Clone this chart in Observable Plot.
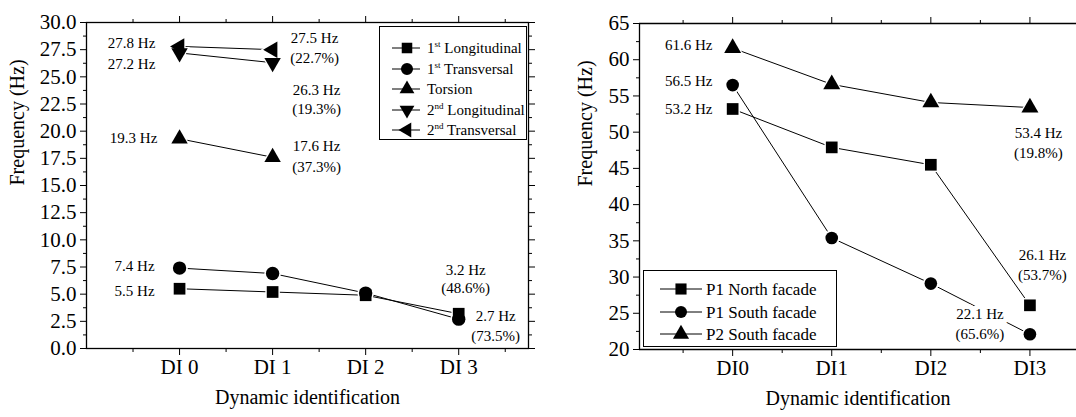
<!DOCTYPE html>
<html><head><meta charset="utf-8">
<script src="https://cdn.jsdelivr.net/npm/d3@7"></script>
<script src="https://cdn.jsdelivr.net/npm/@observablehq/plot@0.6"></script>
<style>
html,body{margin:0;padding:0;background:#fff;overflow:hidden}
#wrap{position:relative;width:1076px;height:417px;font-family:"Liberation Serif",Tinos,"Times New Roman",Times,"DejaVu Serif",serif;color:#000;overflow:hidden}
#wrap svg, #wrap svg text{font-family:"Liberation Serif",Tinos,"Times New Roman",Times,"DejaVu Serif",serif !important}
#left,#right{position:absolute;top:0}
#left{left:0}
#right{left:540px}
.legend{position:absolute;border:1.3px solid #000;background:#fff;box-sizing:border-box}
.legend .row{position:absolute;left:0;height:0;white-space:nowrap}
.legend .row svg{position:absolute;left:0;top:-10px;overflow:visible}
.legend .row span{position:absolute;line-height:1;transform:translateY(-50%);top:0}
.legend sup{font-size:0.6em;vertical-align:0.6em;line-height:0}
</style></head><body>
<div id="wrap"><div id="left"></div><div id="right"></div></div>
<script>
// ---------- data ----------
const diLabelsLeft = ["DI 0", "DI 1", "DI 2", "DI 3"];
const diLabelsRight = ["DI0", "DI1", "DI2", "DI3"];
const leftYTicks = [0, 2.5, 5, 7.5, 10, 12.5, 15, 17.5, 20, 22.5, 25, 27.5, 30];
const leftYMinor = [1.25, 3.75, 6.25, 8.75, 11.25, 13.75, 16.25, 18.75, 21.25, 23.75, 26.25, 28.75];
const rightYTicks = [20, 25, 30, 35, 40, 45, 50, 55, 60, 65];
const rightYMinor = [22.5, 27.5, 32.5, 37.5, 42.5, 47.5, 52.5, 57.5, 62.5];
const xMajor = [0, 1, 2, 3];
const xMinor = [-0.5, 0.5, 1.5, 2.5, 3.5];

const leftSeriesNames = ["1st Longitudinal", "1st Transversal", "Torsion", "2nd Longitudinal", "2nd Transversal"];
const firstLongitudinal = [5.5, 5.2, 4.9, 3.2];
const firstTransversal = [7.4, 6.9, 5.1, 2.7];
const torsion = [19.3, 17.6];
const secondLongitudinal = [27.2, 26.3];
const secondTransversal = [27.8, 27.5];

const rightSeriesNames = ["P1 North facade", "P1 South facade", "P2 South facade"];
const p1North = [53.2, 47.9, 45.5, 26.1];
const p1South = [56.5, 35.4, 29.1, 22.1];
const p2South = [61.6, 56.6, 54.1, 53.4];

const leftNoteLabels = ["27.8 Hz", "27.2 Hz", "27.5 Hz", "(22.7%)", "26.3 Hz", "(19.3%)", "19.3 Hz", "17.6 Hz", "(37.3%)", "7.4 Hz", "5.5 Hz", "3.2 Hz", "(48.6%)", "2.7 Hz", "(73.5%)"];
const rightNoteLabels = ["61.6 Hz", "56.5 Hz", "53.2 Hz", "53.4 Hz", "(19.8%)", "26.1 Hz", "(53.7%)", "22.1 Hz", "(65.6%)"];

const xTitle = "Dynamic identification";
const yTitle = "Frequency (Hz)";

// ---------- symbols ----------
const FONT = "'Liberation Serif', Tinos, 'Times New Roman', Times, 'DejaVu Serif', serif";
const sqrt3 = Math.sqrt(3);
const triDown = {draw(ctx, size) {
  const y = -Math.sqrt(size / (sqrt3 * 3));
  ctx.moveTo(0, -y * 2); ctx.lineTo(-sqrt3 * y, y); ctx.lineTo(sqrt3 * y, y); ctx.closePath();
}};
const triLeft = {draw(ctx, size) {
  const y = -Math.sqrt(size / (sqrt3 * 3));
  ctx.moveTo(y * 2, 0); ctx.lineTo(-y, -sqrt3 * y); ctx.lineTo(-y, sqrt3 * y); ctx.closePath();
}};
const symMap = {square: d3.symbolSquare, circle: d3.symbolCircle, triangle: d3.symbolTriangle, triDown, triLeft};

const pts = values => values.map((v, i) => ({i, v}));

function seriesMarks(series) {
  const lines = series.map(s => Plot.line(pts(s.values), {x: "i", y: "v", stroke: "black", strokeWidth: 1}));
  const halos = series.map(s => Plot.dot(pts(s.values), {x: "i", y: "v", symbol: symMap[s.symbol], r: s.r + 1.6, fill: "white", stroke: "none"}));
  const dots = series.map(s => Plot.dot(pts(s.values), {x: "i", y: "v", symbol: symMap[s.symbol], r: s.r, fill: "black", stroke: "none"}));
  return [...lines, ...halos, ...dots];
}
function note(values, i, text, dx, dy, halo = 4) {
  return Plot.text([{i, v: values[i]}], {x: "i", y: "v", text: () => text, dx, dy, fontSize: 15, fontFamily: FONT, fill: "black", stroke: "white", strokeWidth: halo});
}
function axes(yTicks, yMinor, yFmt, xFmt, withRight) {
  const m = [
    Plot.axisY(yTicks, {anchor: "left", tickSize: 6, tickPadding: 4, tickFormat: yFmt, fontSize: 21, fontFamily: FONT, label: null}),
    Plot.axisY(yMinor, {anchor: "left", tickSize: 3, tickFormat: () => "", label: null}),
    Plot.axisX(xMajor, {anchor: "bottom", tickSize: 7, tickPadding: 4, tickFormat: xFmt, fontSize: 21, fontFamily: FONT, label: null}),
    Plot.axisX(xMinor, {anchor: "bottom", tickSize: 4, tickFormat: () => "", label: null}),
    Plot.axisX(xMajor, {anchor: "top", tickSize: 7, tickFormat: () => "", label: null}),
    Plot.axisX(xMinor, {anchor: "top", tickSize: 4, tickFormat: () => "", label: null})
  ];
  if (withRight) {
    m.push(Plot.axisY(yTicks, {anchor: "right", tickSize: 6, tickFormat: () => "", label: null}));
    m.push(Plot.axisY(yMinor, {anchor: "right", tickSize: 3, tickFormat: () => "", label: null}));
  }
  return m;
}

// ---------- left chart ----------
const leftSeries = [
  {values: firstLongitudinal, symbol: "square", r: 6.6},
  {values: firstTransversal, symbol: "circle", r: 6.7},
  {values: torsion, symbol: "triangle", r: 6.1},
  {values: secondLongitudinal, symbol: "triDown", r: 6.1},
  {values: secondTransversal, symbol: "triLeft", r: 6.1}
];
const L = leftNoteLabels;
const leftPlot = Plot.plot({
  width: 540, height: 417,
  marginLeft: 86, marginRight: 12, marginTop: 22, marginBottom: 69,
  style: {fontFamily: FONT, fontSize: "21px", color: "black", background: "transparent", overflow: "visible"},
  x: {domain: [-1, 3.75], axis: null, label: null},
  y: {domain: [0, 30], axis: null, label: null},
  marks: [
    ...axes(leftYTicks, leftYMinor, d => d.toFixed(1), i => diLabelsLeft[i], true),
    Plot.frame({stroke: "black", strokeWidth: 1.3}),
    ...seriesMarks(leftSeries),
    note(secondTransversal, 0, L[0], -48, -3),
    note(secondLongitudinal, 0, L[1], -48, 11),
    note(secondTransversal, 1, L[2], 42, -11),
    note(secondTransversal, 1, L[3], 42, 8.5),
    note(secondLongitudinal, 1, L[4], 44, 27),
    note(secondLongitudinal, 1, L[5], 44, 46.5),
    note(torsion, 0, L[6], -46, -1),
    note(torsion, 1, L[7], 44, -11),
    note(torsion, 1, L[8], 44, 9.5),
    note(firstTransversal, 0, L[9], -45, -1.5),
    note(firstLongitudinal, 0, L[10], -45, 2),
    note(firstLongitudinal, 3, L[11], 7, -44),
    note(firstLongitudinal, 3, L[12], 7, -25.5),
    note(firstTransversal, 3, L[13], 37, -2.5),
    note(firstTransversal, 3, L[14], 37, 17),
    Plot.text([yTitle], {text: d => d, frameAnchor: "left", rotate: -90, dx: -69, fontSize: 20, fontFamily: FONT}),
    Plot.text([xTitle], {text: d => d, frameAnchor: "bottom", dy: 55, fontSize: 20, fontFamily: FONT})
  ]
});
document.getElementById("left").append(leftPlot);

// ---------- right chart ----------
const rightSeries = [
  {values: p1North, symbol: "square", r: 6.6},
  {values: p1South, symbol: "circle", r: 6.3},
  {values: p2South, symbol: "triangle", r: 6.3}
];
const R = rightNoteLabels;
const rightPlot = Plot.plot({
  width: 536, height: 417,
  marginLeft: 99, marginRight: 0, marginTop: 23, marginBottom: 68,
  style: {fontFamily: FONT, fontSize: "21px", color: "black", background: "transparent", overflow: "hidden"},
  x: {domain: [-0.94, 3.47], axis: null, label: null},
  y: {domain: [20, 65], axis: null, label: null},
  marks: [
    ...axes(rightYTicks, rightYMinor, d => String(d), i => diLabelsRight[i], false),
    Plot.ruleY([20, 65], {stroke: "black", strokeWidth: 1.3}),
    Plot.ruleX([-0.94], {stroke: "black", strokeWidth: 1.3}),
    ...seriesMarks(rightSeries),
    note(p2South, 0, R[0], -44, -3),
    note(p1South, 0, R[1], -44, -3.5),
    note(p1North, 0, R[2], -44, 0),
    note(p2South, 3, R[3], 8.5, 26),
    note(p2South, 3, R[4], 8.5, 46),
    note(p1North, 3, R[5], 12.5, -50),
    note(p1North, 3, R[6], 12.5, -30),
    note(p1South, 3, R[7], -50, -20, 10),
    note(p1South, 3, R[8], -50, 0),
    Plot.text([yTitle], {text: d => d, frameAnchor: "left", rotate: -90, dx: -54, fontSize: 20, fontFamily: FONT}),
    Plot.text([xTitle], {text: d => d, frameAnchor: "bottom", dy: 55, fontSize: 20, fontFamily: FONT})
  ]
});
document.getElementById("right").append(rightPlot);

// ---------- legends (HTML) ----------
const fmtName = n => n.replace(/^(\d)(st|nd|rd|th)/, "$1<sup>$2</sup>");
function legend({left, top, width, height, names, series, firstRow, step, line0, line1, markX, textX, fontSize}) {
  const box = document.createElement("div");
  box.className = "legend";
  Object.assign(box.style, {left: left + "px", top: top + "px", width: width + "px", height: height + "px"});
  names.forEach((name, k) => {
    const s = series[k];
    const row = document.createElement("div");
    row.className = "row";
    row.style.top = (firstRow + k * step) + "px";
    const path = d3.symbol().type(symMap[s.symbol]).size(Math.PI * s.r * s.r)();
    row.innerHTML = `<svg width="${textX}" height="20"><line x1="${line0}" x2="${line1}" y1="10" y2="10" stroke="black" stroke-width="1"/><path transform="translate(${markX},10)" d="${path}" fill="black"/></svg><span style="left:${textX}px;font-size:${fontSize}px">${fmtName(name)}</span>`;
    box.append(row);
  });
  document.getElementById("wrap").append(box);
}
legend({left: 379, top: 26, width: 148, height: 114, names: leftSeriesNames,
  series: leftSeries.map(s => ({...s, r: s.r * 0.9})), firstRow: 21, step: 20.6, line0: 12, line1: 40, markX: 27, textX: 47, fontSize: 15});
legend({left: 643, top: 270, width: 194, height: 77, names: rightSeriesNames,
  series: rightSeries.map(s => ({...s, r: s.r * 0.95})), firstRow: 18, step: 22.5, line0: 16, line1: 58, markX: 37, textX: 62, fontSize: 17});
</script>
</body></html>
